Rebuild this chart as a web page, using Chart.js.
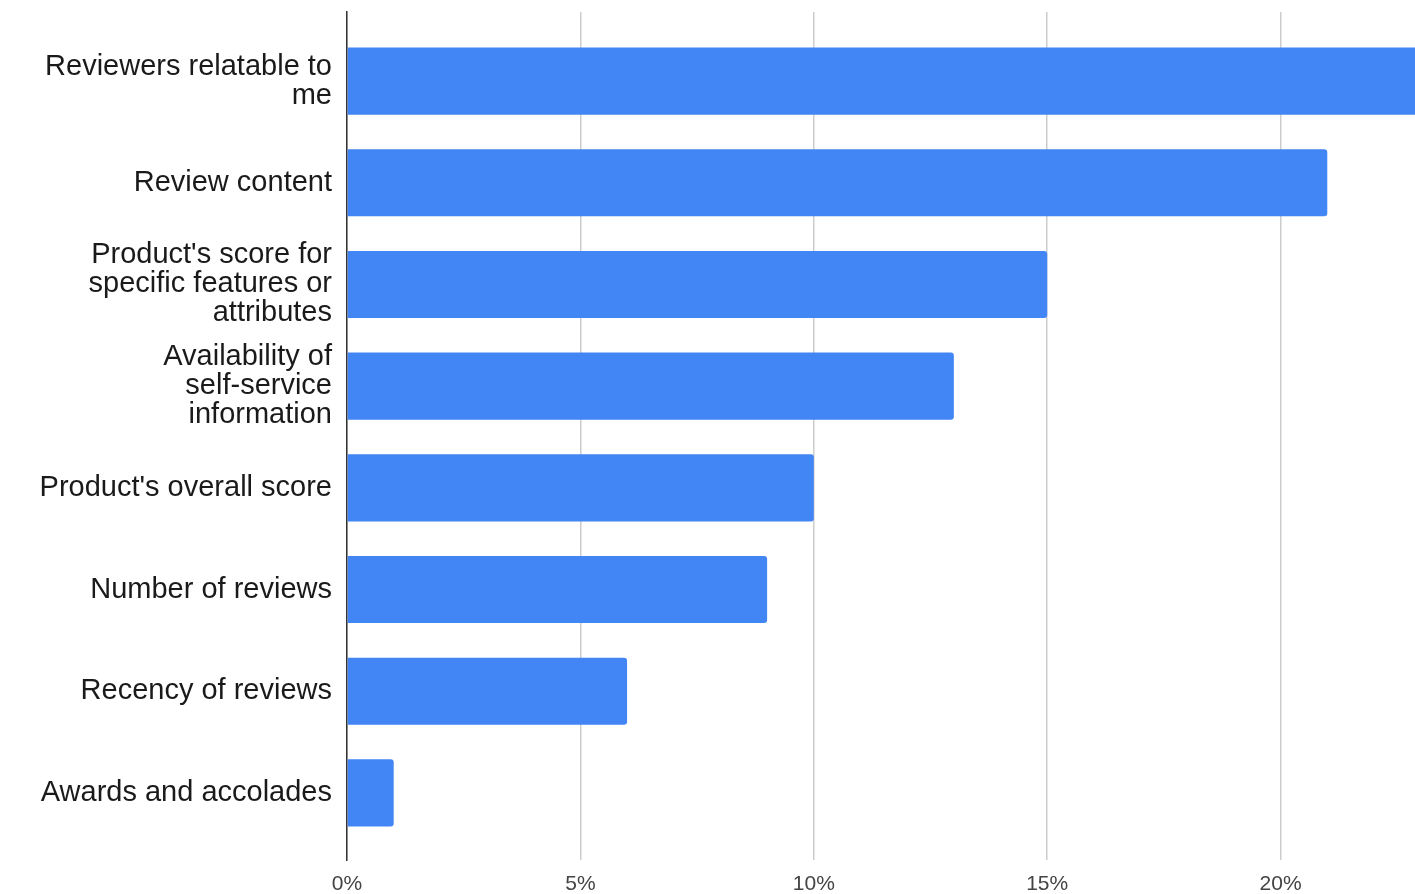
<!DOCTYPE html>
<html>
<head>
<meta charset="utf-8">
<title>Review factors</title>
<script src="https://cdn.jsdelivr.net/npm/chart.js@4/dist/chart.umd.min.js"></script>
<style>
    html, body { margin: 0; padding: 0; background: #fff; }
    #wrap { width: 1415px; height: 894px; overflow: hidden; position: relative; }
    #factorChart { position: absolute; left: 0; top: 0; }
</style>
</head>
<body>
<div id="wrap">
    <canvas id="factorChart" width="1574" height="894"></canvas>
</div>
<script>
// categories, top to bottom (multi-line labels as arrays)
const categories = [
    ['Reviewers relatable to', 'me'],
    'Review content',
    ["Product's score for", 'specific features or', 'attributes'],
    ['Availability of', 'self-service', 'information'],
    "Product's overall score",
    'Number of reviews',
    'Recency of reviews',
    'Awards and accolades'
];

// share of respondents, in percent
const shares = [25, 21, 15, 13, 10, 9, 6, 1];

const xTicks = [0, 5, 10, 15, 20, 25];

document.addEventListener('DOMContentLoaded', function() {
    initializeFactorChart();
});

function initializeFactorChart() {
    const ctx = document.getElementById('factorChart');

    // y is a linear index axis so the frame can run a bit past the first/last bar
    const points = shares.map(function(v, i) { return { x: v, y: i }; });

    return new Chart(ctx, {
        type: 'bar',
        data: {
            datasets: [{
                data: points,
                backgroundColor: '#4285F4',
                borderWidth: 0,
                borderRadius: 3,
                categoryPercentage: 1,
                barPercentage: 0.66
            }]
        },
        options: {
            indexAxis: 'y',
            responsive: false,
            animation: false,
            layout: {
                padding: { top: 12, right: 60, bottom: 0, left: 0 }
            },
            plugins: {
                legend: { display: false },
                tooltip: { enabled: false }
            },
            scales: {
                x: {
                    type: 'linear',
                    min: 0,
                    max: 25,
                    afterBuildTicks: function(scale) {
                        scale.ticks = xTicks.map(function(v) { return { value: v }; });
                    },
                    afterFit: function(scale) {
                        scale.height = 34;
                    },
                    grid: {
                        color: '#cccccc',
                        lineWidth: 1.5,
                        drawTicks: false
                    },
                    border: { display: false },
                    ticks: {
                        padding: 12,
                        color: '#444444',
                        font: { family: 'Liberation Sans, Arial, sans-serif', size: 21 },
                        callback: function(value) { return value + '%'; }
                    }
                },
                y: {
                    type: 'linear',
                    reverse: true,
                    offset: false,
                    min: -0.68,
                    max: 7.66,
                    afterBuildTicks: function(scale) {
                        scale.ticks = categories.map(function(c, i) { return { value: i }; });
                    },
                    afterFit: function(scale) {
                        scale.width = 347;
                        // labels may overhang the plot, keep the frame where it is
                        scale.paddingTop = 0;
                        scale.paddingBottom = 0;
                    },
                    grid: { display: false, drawTicks: false },
                    border: { display: true, color: '#333333', width: 1.5 },
                    ticks: {
                        padding: 15,
                        color: '#1a1a1a',
                        font: { family: 'Liberation Sans, Arial, sans-serif', size: 29, lineHeight: '29px' },
                        callback: function(value) { return categories[value]; }
                    }
                }
            }
        }
    });
}
</script>
</body>
</html>
